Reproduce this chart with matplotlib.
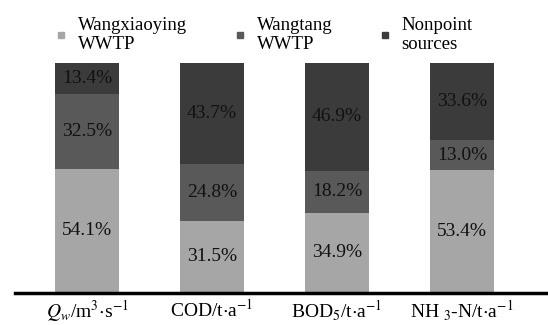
import numpy as np
import matplotlib
matplotlib.use("Agg")
import matplotlib.pyplot as plt
from matplotlib.lines import Line2D

plt.rcParams['font.family'] = 'Liberation Serif'
plt.rcParams['mathtext.fontset'] = 'stix'

categories = [r'$Q_w$/m$^3$$\cdot$s$^{-1}$', r'COD/t$\cdot$a$^{-1}$',
              r'BOD$_5$/t$\cdot$a$^{-1}$', r'NH$\ _3$-N/t$\cdot$a$^{-1}$']
series = ['Wangxiaoying\nWWTP', 'Wangtang\nWWTP', 'Nonpoint\nsources']
wangxiaoying = [54.1, 31.5, 34.9, 53.4]
wangtang = [32.5, 24.8, 18.2, 13.0]
nonpoint = [13.4, 43.7, 46.9, 33.6]
colors = ['#a6a6a6', '#595959', '#3b3b3b']

fig = plt.figure(figsize=(5.48, 3.25), dpi=100)
ax = fig.add_axes([15/548, 32/325, 533/548, 230/325])

x = np.arange(len(categories))
bottom = np.zeros(len(categories))
for vals, c in zip([wangxiaoying, wangtang, nonpoint], colors):
    vals = np.array(vals)
    ax.bar(x, vals, width=0.512, bottom=bottom, color=c)
    for xi, b, v in zip(x, bottom, vals):
        ax.text(xi, b + v / 2, f'{v:.1f}%', ha='center', va='center',
                fontsize=14, color='#111111')
    bottom += vals

ax.set_xlim(-0.576, 3.688)
ax.set_ylim(0, 100)
ax.set_xticks(x)
ax.set_xticklabels(categories, fontsize=14)
ax.tick_params(axis='x', length=0, pad=4)
ax.set_yticks([])
for s in ['left', 'right', 'top']:
    ax.spines[s].set_visible(False)
ax.spines['bottom'].set_linewidth(2.5)

handles = [Line2D([], [], marker='s', linestyle='none', markersize=5,
                  color=c) for c in colors]
fig.legend(handles, series, ncol=3, loc='upper left',
           bbox_to_anchor=(37/548, 1.0), frameon=False, fontsize=13.5,
           handlelength=0.8, handletextpad=0.5, columnspacing=2.4,
           labelspacing=0.2)

fig.savefig('out.png', dpi=100)
